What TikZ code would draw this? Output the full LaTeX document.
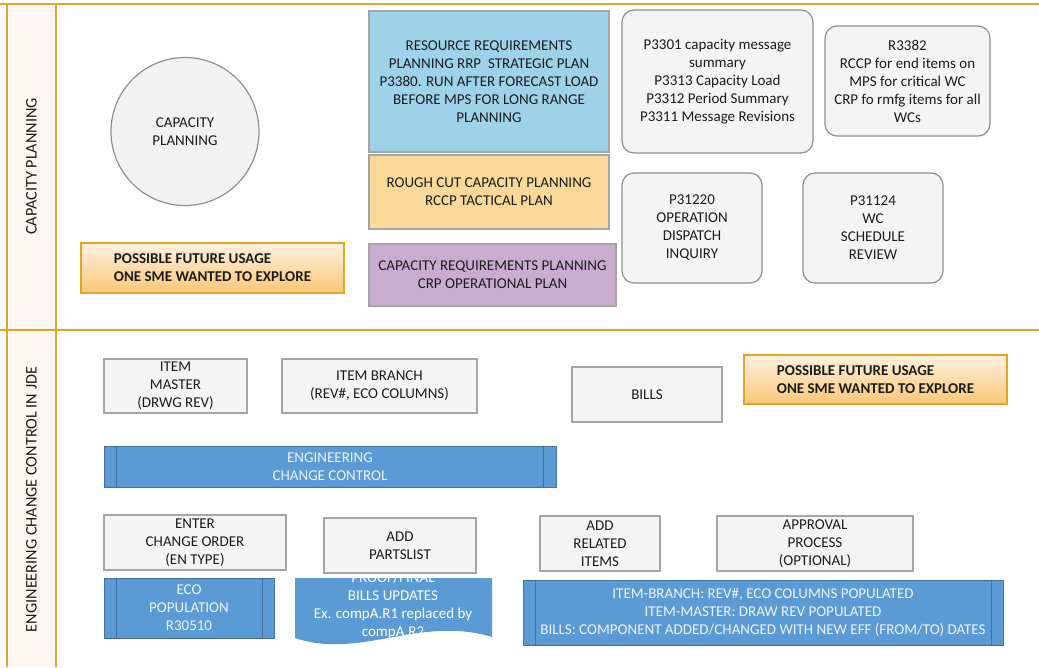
\documentclass[tikz,border=0pt]{standalone}
\usepackage{fontspec}
\setmainfont{Carlito}
\usetikzlibrary{calc}

\definecolor{ink}{HTML}{1C1C1C}
\definecolor{boxfill}{HTML}{F4F4F4}
\definecolor{boxline}{HTML}{A5A5A5}
\definecolor{rline}{HTML}{8F8F8F}
\definecolor{circfill}{HTML}{F2F2F2}
\definecolor{rrpfill}{HTML}{9ED2E9}
\definecolor{rccpfill}{HTML}{F9D898}
\definecolor{crpfill}{HTML}{C8ADD1}
\definecolor{blueF}{HTML}{5B9BD5}
\definecolor{blueL}{HTML}{41719C}
\definecolor{bluetext}{HTML}{EEF4FB}
\definecolor{gold}{HTML}{DFA72A}
\definecolor{lanefill}{HTML}{FEF7F1}
\definecolor{orangetop}{HTML}{FEF1DE}
\definecolor{orangebot}{HTML}{FAC777}

% place a node by its corner coordinates (x1,y1)-(x2,y2)
\newcommand\placebox[7]{%
  \node[#1, minimum width={#5-#3}, minimum height={#6-#4}] (#2)
    at ({(#3+#5)/2},{(#4+#6)/2}) {#7};}

\tikzset{
  txt/.style={font=\fontsize{15}{18}\selectfont, text=ink, align=center, inner sep=0pt},
  graybox/.style={txt, rectangle, draw=boxline, line width=1.6pt, fill=boxfill},
  roundbox/.style={txt, rectangle, draw=rline, line width=1.2pt, fill=boxfill, rounded corners=12pt},
  planbox/.style={txt, rectangle, draw=boxline, line width=1.4pt},
  futurebox/.style={txt, rectangle, draw=gold, line width=1.6pt, top color=orangetop,
    bottom color=orangebot, align=left, font=\fontsize{15}{18}\selectfont\bfseries},
  procbox/.style={txt, rectangle, draw=blueL, line width=0.9pt, fill=blueF, text=bluetext},
  lanelabel/.style={txt, rotate=90, font=\fontsize{16.2}{18}\selectfont},
  laneline/.style={draw=gold, line width=1.8pt},
}

\begin{document}
\begin{tikzpicture}[x=1pt,y=-1pt]
\useasboundingbox (0,0) rectangle (1039,667);

% ---- swimlane frame ----
\fill[lanefill] (7,4) rectangle (56,667);
\draw[laneline] (0,4) -- (1039,4);
\draw[laneline] (0,330) -- (1039,330);
\draw[laneline] (7,4) -- (7,667);
\draw[laneline] (56,4) -- (56,667);
\node[lanelabel] (laneCap) at (31.5,166.5) {CAPACITY PLANNING};
\node[lanelabel] (laneEcc) at (31.5,499.5) {ENGINEERING CHANGE CONTROL IN JDE};

% ---- capacity planning lane ----
\node[txt, circle, draw=rline, line width=1.2pt, fill=circfill, minimum size=148pt]
  (cap) at (185,131.5) {CAPACITY\\PLANNING};

\placebox{futurebox}{future1}{81}{243}{344}{293}{POSSIBLE FUTURE USAGE\\ONE SME WANTED TO EXPLORE}

\placebox{planbox, fill=rrpfill}{rrp}{369}{11}{609}{152}{RESOURCE REQUIREMENTS\\PLANNING RRP\ \ STRATEGIC PLAN\\P3380. RUN AFTER FORECAST LOAD\\BEFORE MPS FOR LONG RANGE\\PLANNING}
\placebox{planbox, fill=rccpfill}{rccp}{369}{155}{609}{229}{ROUGH CUT CAPACITY PLANNING\\RCCP TACTICAL PLAN}
\placebox{planbox, fill=crpfill}{crp}{369}{244}{616}{306}{CAPACITY REQUIREMENTS PLANNING\\CRP OPERATIONAL PLAN}

\placebox{roundbox}{p3301}{622}{10}{813}{153}{P3301 capacity message\\summary\\P3313 Capacity Load\\P3312 Period Summary\\P3311 Message Revisions}
\placebox{roundbox}{r3382}{825}{26}{990}{136}{R3382\\RCCP for end items on\\MPS for critical WC\\CRP fo rmfg items for all\\WCs}
\placebox{roundbox}{p31220}{622}{173}{762}{283}{P31220\\OPERATION\\DISPATCH\\INQUIRY}
\placebox{roundbox}{p31124}{803}{173}{943}{283}{P31124\\WC\\SCHEDULE\\REVIEW}

% ---- engineering change control lane ----
\placebox{graybox}{itemmaster}{104}{359}{247}{413}{ITEM\\MASTER\\(DRWG REV)}
\placebox{graybox}{itembranch}{282}{359}{477}{413}{ITEM BRANCH\\(REV\#, ECO COLUMNS)}
\placebox{graybox}{bills}{572}{367}{722}{422}{BILLS}
\placebox{futurebox}{future2}{744}{355}{1007}{404}{POSSIBLE FUTURE USAGE\\ONE SME WANTED TO EXPLORE}

\placebox{procbox}{ecc}{104}{446}{556}{487}{ENGINEERING\\CHANGE CONTROL}
\draw[blueL, line width=0.9pt] ($(ecc.north west)+(13,0)$) -- ($(ecc.south west)+(13,0)$);
\draw[blueL, line width=0.9pt] ($(ecc.north east)+(-13,0)$) -- ($(ecc.south east)+(-13,0)$);

\placebox{graybox}{enterco}{104}{515}{286}{570}{ENTER\\CHANGE ORDER\\(EN TYPE)}

% document shape for bills updates (drawn below the parts list box)
\fill[blueF] (295,578) -- (492,578) -- (492,637)
  .. controls (420,615) and (360,660) .. (295,638) -- cycle;
\node[txt, text=white] (billsupd) at (393,605.5)
  {PROOF/FINAL\\BILLS UPDATES\\Ex. compA.R1 replaced by\\compA.R2};

\placebox{graybox}{partslist}{324}{518}{476}{573}{ADD\\PARTSLIST}
\placebox{graybox}{related}{540}{516}{660}{571}{ADD\\RELATED\\ITEMS}
\placebox{graybox}{approval}{717}{516}{913}{571}{APPROVAL\\PROCESS\\(OPTIONAL)}

\placebox{procbox}{ecopop}{104}{578}{274}{638}{ECO\\POPULATION\\R30510}
\draw[blueL, line width=0.9pt] ($(ecopop.north west)+(13,0)$) -- ($(ecopop.south west)+(13,0)$);
\draw[blueL, line width=0.9pt] ($(ecopop.north east)+(-12,0)$) -- ($(ecopop.south east)+(-12,0)$);

\placebox{procbox}{populated}{523}{580}{1003}{645}{ITEM-BRANCH: REV\#, ECO COLUMNS POPULATED\\ITEM-MASTER: DRAW REV POPULATED\\BILLS: COMPONENT ADDED/CHANGED WITH NEW EFF (FROM/TO) DATES}
\draw[blueL, line width=0.9pt] ($(populated.north west)+(13,0)$) -- ($(populated.south west)+(13,0)$);
\draw[blueL, line width=0.9pt] ($(populated.north east)+(-12,0)$) -- ($(populated.south east)+(-12,0)$);
\end{tikzpicture}
\end{document}
